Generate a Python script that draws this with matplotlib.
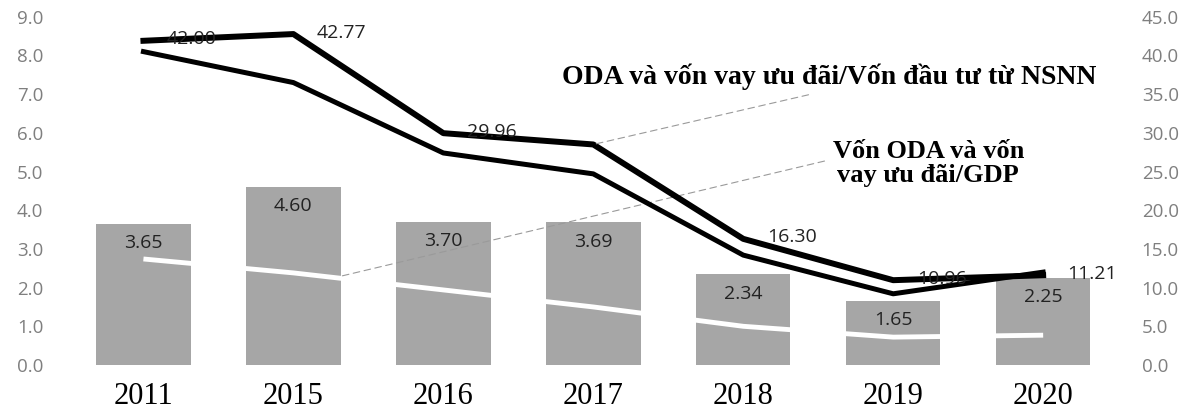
import matplotlib.pyplot as plt

years = ["2011", "2015", "2016", "2017", "2018", "2019", "2020"]
oda_gdp_bars = [3.65, 4.60, 3.70, 3.69, 2.34, 1.65, 2.25]
oda_nsnn = [41.9, 42.77, 29.96, 28.5, 16.30, 10.96, 11.6]
oda_nsnn_labels = ["42.00", "42.77", "29.96", None, "16.30", "10.96", "11.21"]
second_line = [40.5, 36.5, 27.4, 24.7, 14.2, 9.2, 12.0]
white_line = [2.74, 2.38, 1.94, 1.5, 1.0, 0.72, 0.77]

label_oda_nsnn = "ODA và vốn vay ưu đãi/Vốn đầu tư từ NSNN"
label_oda_gdp = "Vốn ODA và vốn\nvay ưu đãi/GDP"

tick_grey = "#7f7f7f"

fig = plt.figure(figsize=(12.01, 4.20), dpi=100)
ax = fig.add_axes([0.057, 0.131, 0.874, 0.829])
ax2 = ax.twinx()

x = list(range(len(years)))

ax.bar(x, oda_gdp_bars, width=0.63, color="#a6a6a6", zorder=2)
ax.plot(x, white_line, color="#bdbdbd", lw=0.8, ls=(0, (6, 4)), zorder=1)
ax.plot(x, white_line, color="white", lw=3.5, zorder=3, solid_capstyle="butt")
for xi, v in zip(x, oda_gdp_bars):
    ax.text(xi, v - 0.5, f"{v:.2f}", ha="center", va="center",
            fontsize=14, color="#222222", family="Open Sans", zorder=4)

ax.set_ylim(0, 9)
ax.set_xlim(-0.5, len(years) - 0.5)
ax.set_yticks([i * 1.0 for i in range(10)])
ax.set_yticklabels([f"{i:.1f}" for i in range(10)])
ax.set_xticks(x)
ax.set_xticklabels(years, family="Liberation Serif", fontsize=22, color="black")

ax2.plot(x, second_line, color="black", lw=3.6, zorder=3)
ax2.plot(x, oda_nsnn, color="black", lw=4.3, zorder=3)
for xi, v, lab in zip(x, oda_nsnn, oda_nsnn_labels):
    if lab is None:
        continue
    ax2.annotate(lab, (xi, v), xytext=(17, 1), textcoords="offset points",
                 ha="left", va="center", fontsize=14, color="#222222",
                 family="Open Sans")
ax2.set_ylim(0, 45)
ax2.set_yticks([i * 5.0 for i in range(10)])
ax2.set_yticklabels([f"{i * 5:.1f}" for i in range(10)])

for a in (ax, ax2):
    for s in a.spines.values():
        s.set_visible(False)
    a.tick_params(axis="y", length=0, labelsize=13.5, labelcolor=tick_grey,
                  labelfontfamily="Open Sans")
ax.tick_params(axis="y", pad=18)
ax2.tick_params(axis="y", pad=17)
ax.tick_params(axis="x", length=0, pad=12)

# leader lines from the notes to the series
ax2.annotate(label_oda_nsnn, xy=(3, oda_nsnn[3]), xytext=(0.69, 0.817),
             textcoords="figure fraction", ha="center", va="center",
             fontsize=20, fontweight="bold", family="Liberation Serif",
             arrowprops=dict(arrowstyle="-", color="#9a9a9a", lw=0.8,
                             ls=(0, (6, 4)), shrinkA=6, shrinkB=0,
                             relpos=(0.5, 0)))
ax.annotate(label_oda_gdp, xy=(1.3, 2.28), xytext=(0.773, 0.61),
            textcoords="figure fraction", ha="center", va="center",
            fontsize=19, fontweight="bold", family="Liberation Serif",
            linespacing=1.05,
            arrowprops=dict(arrowstyle="-", color="#9a9a9a", lw=0.8,
                            ls=(0, (6, 4)), shrinkA=4, shrinkB=0,
                            relpos=(0, 0.6)))

fig.savefig("out.png", dpi=100)
